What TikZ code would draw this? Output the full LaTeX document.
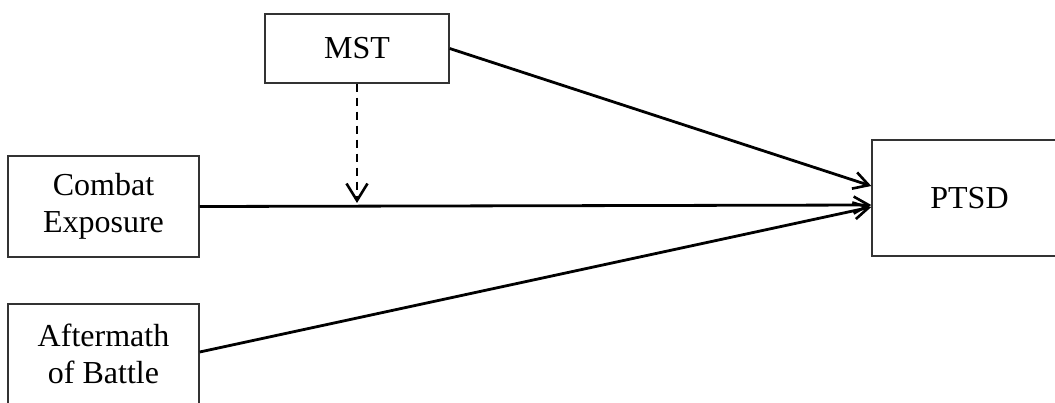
\documentclass[tikz,border=0pt]{standalone}
\usepackage{fontspec}
\setmainfont{Liberation Serif}
\usetikzlibrary{arrows.meta,calc}
\begin{document}
\begin{tikzpicture}[x=1pt,y=-1pt,
  box/.style={draw=black!80, line width=1.4pt, inner sep=0pt, align=center,
    font=\fontsize{32}{37.5}\selectfont},
  conn/.style={line width=2.8pt, -{Straight Barb[length=15pt,width=17pt,line width=2.6pt]}},
  modconn/.style={line width=2.8pt, dash pattern=on 8pt off 6pt,
    -{Straight Barb[length=17pt,width=21pt,line width=2.6pt]}}]
\useasboundingbox (0,0) rectangle (1055,402);
\clip (0,0) rectangle (1055,402);
\node[box, minimum width=191pt, minimum height=101pt] (combat) at (103.5,206.5) {Combat\\Exposure};
\node[box, minimum width=191pt, minimum height=100pt] (after) at (103.5,354) {Aftermath\\of Battle};
\node[box, minimum width=184pt, minimum height=69pt] (mst) at (357,48.5) {MST};
\node[box, minimum width=195pt, minimum height=116pt] (ptsd) at (969.5,198) {PTSD};
\coordinate (t1) at ($(ptsd.west)+(0,-12)$);
\coordinate (t2) at ($(ptsd.west)+(0,7)$);
\coordinate (t3) at ($(ptsd.west)+(0,9)$);
\coordinate (mod) at (357,203);
\draw[conn] (mst.east) -- (t1);
\draw[conn] (combat.east) -- (t2);
\draw[conn] ($(after.east)+(0,-2)$) -- (t3);
\draw[modconn] (mst.south) -- (mst.south |- mod);
\end{tikzpicture}
\end{document}
